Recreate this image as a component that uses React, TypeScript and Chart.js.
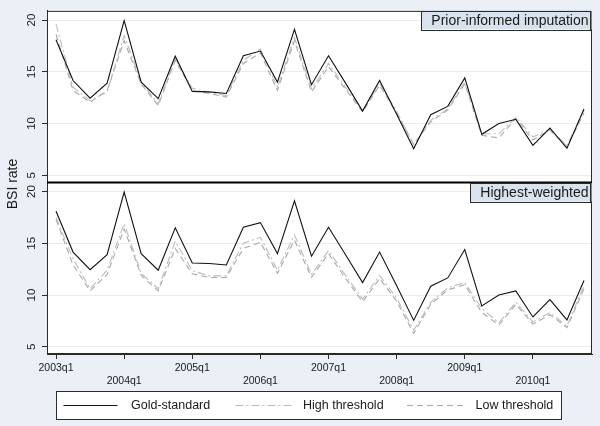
import React, { useEffect, useRef } from "react";
import { Chart, registerables } from "chart.js";

Chart.register(...registerables);

// ---------- data ----------
const quarterTickLabels = ["2003q1", "2004q1", "2005q1", "2006q1", "2007q1", "2008q1", "2009q1", "2010q1"];
const quarterTickIndex = [0, 4, 8, 12, 16, 20, 24, 28];
const yTickValues = [5, 10, 15, 20];
const panelTitles = ["Prior-informed imputation", "Highest-weighted"];
const seriesNames = ["Gold-standard", "High threshold", "Low threshold"];
const yAxisTitle = "BSI rate";

// 2003q1 ... 2010q4 (32 quarters)
const goldStandard = [
  18.1, 14.15, 12.45, 13.9, 19.95, 14.0, 12.4, 16.5,
  13.1, 13.05, 12.9, 16.55, 17.0, 14.0, 19.1, 13.75,
  16.55, 13.9, 11.2, 14.15, 10.9, 7.55, 10.85, 11.65,
  14.4, 8.95, 10.0, 10.4, 7.88, 9.55, 7.6, 11.4,
];
const priorHigh = [
  19.6, 13.5, 12.2, 13.05, 18.5, 14.0, 11.9, 16.25,
  13.4, 13.0, 12.7, 16.1, 17.2, 13.5, 18.3, 13.35,
  15.8, 13.5, 11.25, 13.85, 11.2, 7.9, 10.3, 11.4,
  14.0, 9.0, 9.0, 10.6, 8.7, 9.4, 7.9, 11.25,
];
const priorLow = [
  18.6, 13.2, 12.05, 13.2, 18.0, 13.8, 11.75, 16.1,
  13.2, 12.9, 12.55, 15.8, 16.8, 13.2, 18.0, 13.05,
  15.5, 13.3, 11.1, 13.7, 11.0, 8.0, 10.15, 11.3,
  13.85, 8.85, 8.6, 10.5, 8.4, 9.35, 7.75, 11.0,
];
const weightedHigh = [
  17.5, 13.5, 10.6, 12.4, 16.9, 12.1, 10.6, 15.2,
  12.35, 11.85, 11.85, 15.0, 15.6, 12.4, 15.8, 12.0,
  14.3, 11.9, 9.6, 11.9, 9.7, 6.6, 9.3, 10.7,
  11.2, 8.7, 7.3, 9.3, 7.4, 8.3, 7.0, 10.9,
];
const weightedLow = [
  17.3, 12.9, 10.4, 12.0, 16.4, 11.9, 10.4, 14.5,
  12.05, 11.7, 11.7, 14.5, 15.1, 12.1, 15.3, 11.7,
  14.0, 11.6, 9.35, 11.6, 9.4, 6.3, 9.1, 10.5,
  11.0, 8.3, 7.1, 9.1, 7.2, 8.1, 6.85, 10.6,
];

// ---------- styles ----------
const FONT = "'Liberation Sans', Arial, Helvetica, sans-serif";
const PAGE_BG = "#eaf0f5";
const TITLE_BG = "#d8e3ed";
const FRAME = "#2b2b2b";
const styles = [
  { color: "#111111", dash: [] as number[], width: 1.1 },
  { color: "#bcbcbc", dash: [8, 3, 2, 3], width: 1.1 },
  { color: "#a9a9a9", dash: [6, 4], width: 1.1 },
];

const toPts = (arr: number[]) => arr.map((v, i) => ({ x: i, y: v }));

const decorPlugin = {
  id: "stataDecor",
  beforeDraw(chart: any) {
    const { ctx, chartArea: a, width, height } = chart;
    ctx.save();
    ctx.fillStyle = PAGE_BG;
    ctx.fillRect(0, 0, width, height);
    ctx.fillStyle = "#ffffff";
    ctx.fillRect(a.left, a.top, a.right - a.left, a.bottom - a.top);
    ctx.restore();
  },
  afterDraw(chart: any) {
    const { ctx, chartArea: a } = chart;
    const yTop = chart.scales.yTop;
    const yBot = chart.scales.yBot;
    ctx.save();
    // frame
    ctx.strokeStyle = FRAME;
    ctx.lineWidth = 1;
    ctx.setLineDash([]);
    ctx.strokeRect(a.left + 0.5, a.top + 0.5, a.right - a.left - 1, a.bottom - a.top - 1);
    // divider between panels
    ctx.lineWidth = 2;
    ctx.strokeStyle = "#000000";
    ctx.beginPath();
    ctx.moveTo(a.left, yTop.bottom);
    ctx.lineTo(a.right, yTop.bottom);
    ctx.stroke();

    // panel titles
    ctx.font = `14px ${FONT}`;
    ctx.textBaseline = "middle";
    ctx.textAlign = "right";
    [yTop, yBot].forEach((sc: any, k: number) => {
      const txt = panelTitles[k];
      const w = ctx.measureText(txt).width;
      const top = k === 0 ? sc.top : sc.top + 0.5;
      const h = 18.5;
      const right = a.right - 0.5;
      const left = right - w - 13;
      ctx.fillStyle = TITLE_BG;
      ctx.fillRect(left, top, right - left, h);
      ctx.strokeStyle = FRAME;
      ctx.lineWidth = 1;
      ctx.strokeRect(Math.round(left) + 0.5, Math.round(top) + 0.5, Math.round(right - left) - 1, Math.round(h));
      ctx.fillStyle = "#1a1a1a";
      ctx.fillText(txt, right - 3, top + h / 2 + 0.5);
    });

    // y axis title
    ctx.save();
    ctx.translate(13.5, 184);
    ctx.rotate(-Math.PI / 2);
    ctx.textAlign = "center";
    ctx.textBaseline = "middle";
    ctx.font = `14px ${FONT}`;
    ctx.fillStyle = "#1a1a1a";
    ctx.fillText(yAxisTitle, 0, 0);
    ctx.restore();

    // legend
    const bx = 56.5, by = 391.5, bw = 505, bh = 28;
    ctx.fillStyle = "#ffffff";
    ctx.fillRect(bx, by, bw, bh);
    ctx.strokeStyle = FRAME;
    ctx.lineWidth = 1;
    ctx.strokeRect(bx, by, bw, bh);
    const items = [
      { x0: 63.5, x1: 117.5, tx: 131 },
      { x0: 235.5, x1: 294.5, tx: 303 },
      { x0: 407, x1: 466, tx: 475.5 },
    ];
    const ly = 405.5;
    ctx.font = `12.5px ${FONT}`;
    ctx.textAlign = "left";
    ctx.textBaseline = "middle";
    items.forEach((it, k) => {
      const st = styles[k];
      ctx.strokeStyle = st.color;
      ctx.lineWidth = st.width;
      ctx.setLineDash(st.dash);
      ctx.beginPath();
      ctx.moveTo(it.x0, ly);
      ctx.lineTo(it.x1, ly);
      ctx.stroke();
      ctx.setLineDash([]);
      ctx.fillStyle = "#1a1a1a";
      ctx.fillText(seriesNames[k], it.tx, ly + 0.5);
    });
    ctx.restore();
  },
};

function makeYScale(weight: number) {
  return {
    type: "linear" as const,
    position: "left" as const,
    stack: "panels",
    stackWeight: 1,
    weight,
    min: 4.3,
    max: 20.88,
    afterBuildTicks: (s: any) => {
      s.ticks = yTickValues.map((v) => ({ value: v }));
    },
    afterFit: (s: any) => {
      s.width = 47;
    },
    ticks: {
      minRotation: 90,
      maxRotation: 90,
      crossAlign: "center" as const,
      padding: 4,
      color: "#1a1a1a",
      font: { family: FONT, size: 11.5 },
      callback: (v: any) => String(v),
    },
    grid: {
      color: "#ececec",
      lineWidth: 1,
      drawTicks: true,
      tickLength: 5,
      tickColor: FRAME,
      tickWidth: 1,
    },
    border: { display: true, color: FRAME, width: 1 },
  };
}

export default function App() {
  const ref = useRef<HTMLCanvasElement | null>(null);

  useEffect(() => {
    if (!ref.current) return;
    const mk = (label: string, data: number[], k: number, axis: string) => ({
      label,
      data: toPts(data),
      yAxisID: axis,
      borderColor: styles[k].color,
      borderWidth: styles[k].width,
      borderDash: styles[k].dash,
      pointRadius: 0,
      tension: 0,
      fill: false,
    });
    const chart = new Chart(ref.current, {
      type: "line",
      data: {
        datasets: [
          mk(seriesNames[0], goldStandard, 0, "yTop"),
          mk(seriesNames[1], priorHigh, 1, "yTop"),
          mk(seriesNames[2], priorLow, 2, "yTop"),
          mk(seriesNames[0], goldStandard, 0, "yBot"),
          mk(seriesNames[1], weightedHigh, 1, "yBot"),
          mk(seriesNames[2], weightedLow, 2, "yBot"),
        ],
      },
      options: {
        animation: false,
        responsive: false,
        devicePixelRatio: 1,
        layout: { padding: { top: 9, right: 8, left: 0, bottom: 0 } },
        plugins: { legend: { display: false }, tooltip: { enabled: false } },
        scales: {
          x: {
            type: "linear",
            position: "bottom",
            min: -0.53,
            max: 31.47,
            afterBuildTicks: (s: any) => {
              s.ticks = quarterTickIndex.map((v) => ({ value: v }));
            },
            afterFit: (s: any) => {
              s.height = 72;
            },
            ticks: {
              autoSkip: false,
              minRotation: 0,
              maxRotation: 0,
              padding: 3,
              color: "#1a1a1a",
              font: { family: FONT, size: 10.5 },
              callback: (_v: any, i: number) =>
                i % 2 === 0 ? [quarterTickLabels[i], ""] : ["", quarterTickLabels[i]],
            },
            grid: {
              drawOnChartArea: false,
              drawTicks: true,
              tickLength: 5,
              tickColor: FRAME,
            },
            border: { display: true, color: FRAME, width: 1 },
          },
          yBot: makeYScale(0),
          yTop: makeYScale(1),
        },
      } as any,
      plugins: [decorPlugin],
    });
    return () => chart.destroy();
  }, []);

  return (
    <div style={{ position: "absolute", left: 0, top: 0, width: 600, height: 426 }}>
      <canvas ref={ref} width={600} height={426} style={{ width: 600, height: 426, display: "block" }} />
    </div>
  );
}
